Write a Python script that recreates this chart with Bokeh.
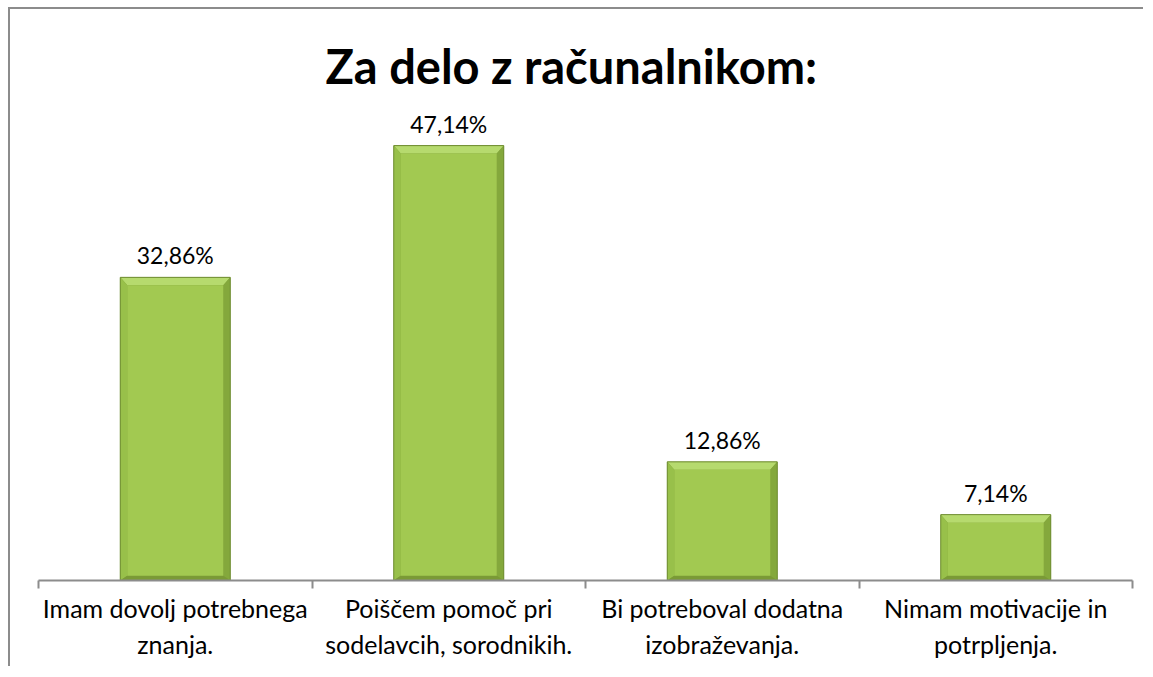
from bokeh.plotting import figure
from bokeh.models import Range1d, LinearAxis, FixedTicker
from bokeh.core.properties import value
from bokeh.embed import file_html
from bokeh.resources import INLINE

# ---- data ----
categories = ["Imam dovolj potrebnega\nznanja.",
              "Poiščem pomoč pri\nsodelavcih, sorodnikih.",
              "Bi potreboval dodatna\nizobraževanja.",
              "Nimam motivacije in\npotrpljenja."]
values = [32.86, 47.14, 12.86, 7.14]
value_labels = ["32,86%", "47,14%", "12,86%", "7,14%"]
title_text = "Za delo z računalnikom:"

FONT = "Lato"
W, H = 1135, 659
ML, MR, MT, MB = 28, 13, 98, 88
YMAX = 51.27

n = len(categories)
centers = [i + 0.5 for i in range(n)]

p = figure(width=W, height=H, output_backend="svg", toolbar_location=None,
           x_range=Range1d(0, n), y_range=Range1d(0, YMAX),
           x_axis_location=None, y_axis_location=None,
           min_border_left=ML, min_border_right=MR,
           min_border_top=MT, min_border_bottom=MB)
p.styles = {"border-top": "2px solid #8c8c8c", "border-left": "2px solid #8c8c8c",
            "margin-top": "7px", "margin-left": "8px"}
p.grid.visible = False
p.outline_line_color = None
p.background_fill_color = "white"
p.border_fill_color = "white"

p.title.text = title_text
p.title.text_font = FONT
p.title.text_font_style = "bold"
p.title.text_font_size = "47px"
p.title.align = "left"
p.title.offset = 287
p.title.text_color = "black"
p.title.standoff = 28

# bar geometry in data units
frame_w = W - ML - MR
px_x = n / frame_w
px_y = YMAX / (H - MT - MB)
half = 55 * px_x
dx = 7 * px_x
dy = 8 * px_y

xs_all, ys_all, cols = [], [], []
for c, v in zip(centers, values):
    x0, x1 = c - half, c + half
    ix0, ix1 = x0 + dx, x1 - dx
    t, it = v, v - dy
    b, ib = 0, dy * 0.6
    xs_all.append([x0, x1, x1, x0]); ys_all.append([b, b, t, t]); cols.append("#7f9f3a")
    xs_all.append([x0, x1, ix1, ix0]); ys_all.append([t, t, it, it]); cols.append("#b6da6e")
    xs_all.append([x0, ix0, ix0, x0]); ys_all.append([b, ib, it, t]); cols.append("#98c04a")
    xs_all.append([x1, ix1, ix1, x1]); ys_all.append([b, ib, it, t]); cols.append("#84a83c")
    xs_all.append([x0, x1, ix1, ix0]); ys_all.append([b, b, ib, ib]); cols.append("#7a9a36")
    xs_all.append([ix0, ix1, ix1, ix0]); ys_all.append([ib, ib, it, it]); cols.append("#a2c951")

p.patches(xs_all, ys_all, fill_color=cols, line_color=None)
p.quad(left=[c - half for c in centers], right=[c + half for c in centers],
       bottom=0, top=values, fill_color=None, line_color="#6e8c30", line_width=1)

p.text(x=centers, y=values, text=value_labels,
       text_align="center", text_baseline="bottom", y_offset=-8,
       text_font=value(FONT), text_font_size="23px", text_color="black")

# tick axis at category boundaries
tick_axis = LinearAxis(ticker=FixedTicker(ticks=list(range(n + 1))),
                       major_tick_in=0, major_tick_out=8,
                       minor_tick_line_color=None,
                       axis_line_color="#8c8c8c", axis_line_width=2,
                       major_tick_line_color="#8c8c8c", major_tick_line_width=2,
                       major_label_text_font_size="1px", major_label_standoff=0,
                       major_label_text_color=None)
p.add_layout(tick_axis, "below")

# category label axis (labels at category centres)
cat_axis = LinearAxis(ticker=FixedTicker(ticks=centers),
                      major_label_overrides={c: lab for c, lab in zip(centers, categories)},
                      axis_line_color=None, major_tick_line_color=None,
                      minor_tick_line_color=None,
                      major_tick_in=0, major_tick_out=0,
                      major_label_standoff=4,
                      major_label_text_font=FONT,
                      major_label_text_font_size="25px",
                      major_label_text_color="black")
p.add_layout(cat_axis, "below")

open("out.html", "w").write(file_html(p, INLINE))
